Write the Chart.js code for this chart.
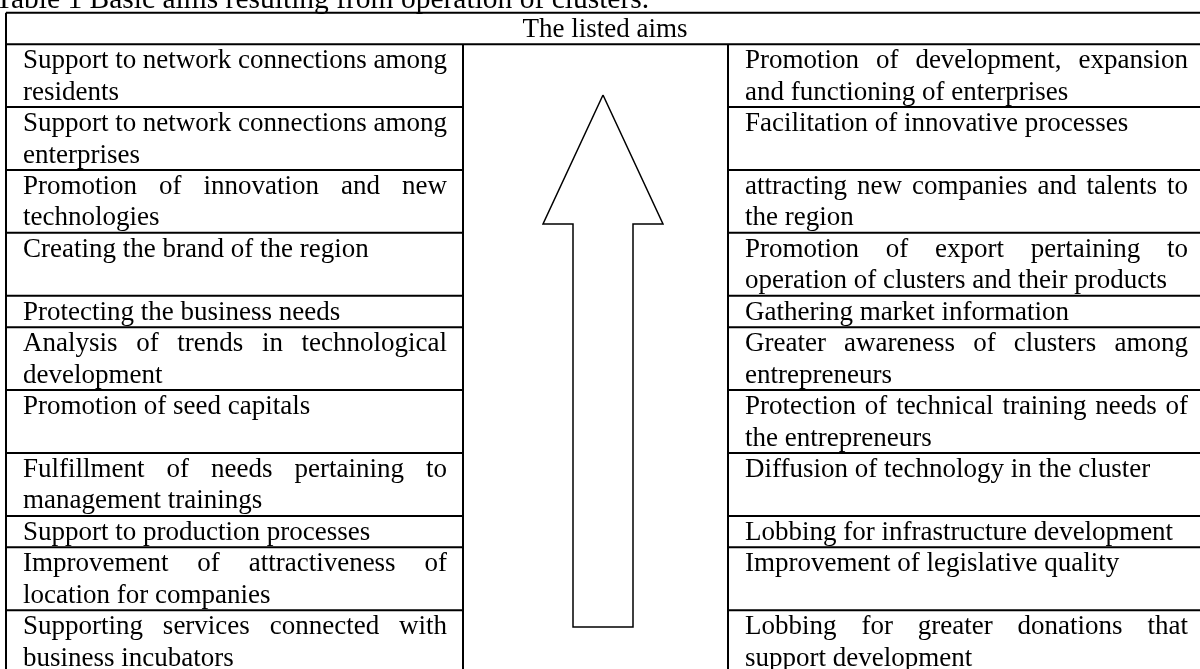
<!DOCTYPE html>
<html>
<head>
<meta charset="utf-8">
<script src="https://cdn.jsdelivr.net/npm/chart.js@4.4.0/dist/chart.umd.min.js"></script>
<style>
  html, body { margin: 0; padding: 0; background: #fff; }
  canvas { display: block; }
</style>
</head>
<body>
<canvas id="aimsTable" width="1200" height="669"></canvas>
<script>
// Table texts (each cell split into its printed lines)
const title = "Table 1 Basic aims resulting from operation of clusters.";
const headerLabel = "The listed aims";

const leftAims = [
    ["Support to network connections among", "residents"],
    ["Support to network connections among", "enterprises"],
    ["Promotion of innovation and new", "technologies"],
    ["Creating the brand of the region"],
    ["Protecting the business needs"],
    ["Analysis of trends in technological", "development"],
    ["Promotion of seed capitals"],
    ["Fulfillment of needs pertaining to", "management trainings"],
    ["Support to production processes"],
    ["Improvement of attractiveness of", "location for companies"],
    ["Supporting services connected with", "business incubators"]
];

const rightAims = [
    ["Promotion of development, expansion", "and functioning of enterprises"],
    ["Facilitation of innovative processes"],
    ["attracting new companies and talents to", "the region"],
    ["Promotion of export pertaining to", "operation of clusters and their products"],
    ["Gathering market information"],
    ["Greater awareness of clusters among", "entrepreneurs"],
    ["Protection of technical training needs of", "the entrepreneurs"],
    ["Diffusion of technology in the cluster"],
    ["Lobbing for infrastructure development"],
    ["Improvement of legislative quality"],
    ["Lobbing for greater donations that", "support development"]
];

// Layout (in scale units = page pixels)
const FONT = '27px "Liberation Serif", "Times New Roman", serif';
const TITLE_FONT = '29.5px "Liberation Serif", "Times New Roman", serif';
const LINE_H = 31.45;
const BASE_OFF = 24;
const PAD_L = 17, PAD_R = 16;
const tableTop = 12.7;
const cols = [6, 463, 728, 1204];
const arrowGeom = { cx: 603, tipY: 95, headY: 224, headHalf: 60, shaftHalf: 30, baseY: 627 };

// Row layout from the number of printed lines
const rowLines = leftAims.map((l, i) => Math.max(l.length, rightAims[i].length));
const rowTops = [tableTop + LINE_H];
rowLines.forEach(n => rowTops.push(rowTops[rowTops.length - 1] + n * LINE_H));

// Arrow outline
const g = arrowGeom;
const arrowPoints = [
    { x: g.cx, y: g.tipY },
    { x: g.cx + g.headHalf, y: g.headY },
    { x: g.cx + g.shaftHalf, y: g.headY },
    { x: g.cx + g.shaftHalf, y: g.baseY },
    { x: g.cx - g.shaftHalf, y: g.baseY },
    { x: g.cx - g.shaftHalf, y: g.headY },
    { x: g.cx - g.headHalf, y: g.headY },
    { x: g.cx, y: g.tipY }
];

function drawLine(ctx, text, x0, x1, y, justify) {
    if (!justify) { ctx.fillText(text, x0, y); return; }
    const words = text.split(" ");
    if (words.length < 2) { ctx.fillText(text, x0, y); return; }
    const total = words.reduce((s, w) => s + ctx.measureText(w).width, 0);
    const gap = (x1 - x0 - total) / (words.length - 1);
    let x = x0;
    words.forEach(w => {
        ctx.fillText(w, x, y);
        x += ctx.measureText(w).width + gap;
    });
}

function drawCell(ctx, sx, sy, lines, c0, c1, top) {
    const x0 = sx.getPixelForValue(c0 + PAD_L);
    const x1 = sx.getPixelForValue(c1 - PAD_R);
    lines.forEach((t, k) => {
        const y = sy.getPixelForValue(top + BASE_OFF + k * LINE_H);
        drawLine(ctx, t, x0, x1, y, k < lines.length - 1);
    });
}

const tablePlugin = {
    id: "tablePlugin",
    beforeDatasetsDraw(chart) {
        const ctx = chart.ctx;
        const sx = chart.scales.x, sy = chart.scales.y;
        const X = v => sx.getPixelForValue(v);
        const Y = v => sy.getPixelForValue(v);
        const bottom = rowTops[rowTops.length - 1];

        ctx.save();
        ctx.fillStyle = "#000";
        ctx.textBaseline = "alphabetic";

        // caption
        ctx.font = TITLE_FONT;
        ctx.textAlign = "left";
        ctx.fillText(title, X(-5), Y(8));

        // grid lines
        ctx.strokeStyle = "#000";
        ctx.lineWidth = 2;
        ctx.beginPath();
        [tableTop, rowTops[0]].forEach(y => {
            ctx.moveTo(X(cols[0]), Y(y)); ctx.lineTo(X(cols[3]), Y(y));
        });
        rowTops.slice(1).forEach(y => {
            ctx.moveTo(X(cols[0]), Y(y)); ctx.lineTo(X(cols[1]), Y(y));
            ctx.moveTo(X(cols[2]), Y(y)); ctx.lineTo(X(cols[3]), Y(y));
        });
        ctx.moveTo(X(cols[0]), Y(tableTop)); ctx.lineTo(X(cols[0]), Y(bottom));
        ctx.moveTo(X(cols[3]), Y(tableTop)); ctx.lineTo(X(cols[3]), Y(bottom));
        ctx.moveTo(X(cols[1]), Y(rowTops[0])); ctx.lineTo(X(cols[1]), Y(bottom));
        ctx.moveTo(X(cols[2]), Y(rowTops[0])); ctx.lineTo(X(cols[2]), Y(bottom));
        ctx.stroke();

        // header
        ctx.font = FONT;
        ctx.textAlign = "center";
        ctx.fillText(headerLabel, X((cols[0] + cols[3]) / 2), Y(tableTop + BASE_OFF));

        // cells
        ctx.textAlign = "left";
        leftAims.forEach((lines, i) => drawCell(ctx, sx, sy, lines, cols[0], cols[1], rowTops[i]));
        rightAims.forEach((lines, i) => drawCell(ctx, sx, sy, lines, cols[2], cols[3], rowTops[i]));
        ctx.restore();
    }
};

new Chart(document.getElementById("aimsTable"), {
    type: "scatter",
    data: {
        datasets: [{
            data: arrowPoints,
            showLine: true,
            borderColor: "#000",
            borderWidth: 1.5,
            borderJoinStyle: "miter",
            pointRadius: 0,
            tension: 0,
            fill: false
        }]
    },
    options: {
        responsive: false,
        animation: false,
        events: [],
        layout: { padding: 0 },
        plugins: { legend: { display: false }, tooltip: { enabled: false } },
        scales: {
            x: { type: "linear", min: 0, max: 1200, display: false },
            y: { type: "linear", min: 0, max: 669, reverse: true, display: false }
        }
    },
    plugins: [tablePlugin]
});
</script>
</body>
</html>
